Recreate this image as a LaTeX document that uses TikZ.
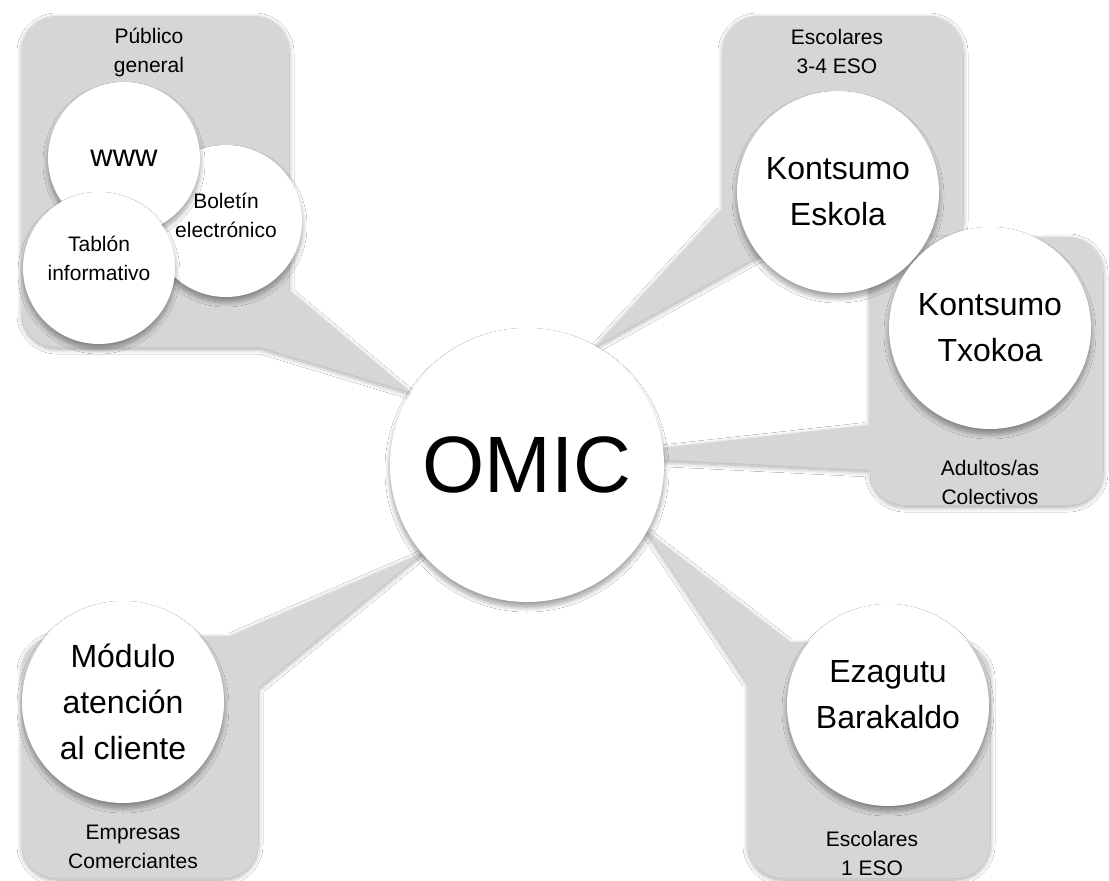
\documentclass[tikz,border=0pt]{standalone}
\usepackage{fontspec}
\setmainfont{Liberation Sans}
\usetikzlibrary{shadows, shadows.blur, backgrounds, calc}
\definecolor{boxgray}{RGB}{214,214,214}
\tikzset{
    bubble/.style={circle, fill=white, align=center, inner sep=0pt, blur shadow={shadow xshift=0pt, shadow yshift=-5pt, shadow blur radius=5pt, shadow blur steps=14, shadow opacity=40}},
    bigbubble/.style={bubble, minimum size=202pt, font=\fontsize{32}{46}\selectfont},
    smallbubble/.style={bubble, minimum size=152pt, font=\fontsize{21}{29}\selectfont},
    callout/.style={fill=boxgray, blur shadow={shadow xshift=0pt, shadow yshift=-2pt, shadow blur radius=5pt, shadow blur steps=12, shadow opacity=35}},
    grouptext/.style={align=center, font=\fontsize{21}{29}\selectfont}
}

\begin{document}
\begin{tikzpicture}[x=1pt, y=-1pt]
    \useasboundingbox (0,0) rectangle (1109,881);

    % Centre
    \node[bubble, minimum size=274pt, font=\fontsize{80}{90}\selectfont] (omic) at (527,465) {OMIC};

    % Publico general
    \node[smallbubble, text depth=12pt] (boletin) at (226,221) {Boletín\\electrónico};
    \node[smallbubble, font=\fontsize{31}{36}\selectfont] (www) at (124,158) {www};
    \node[smallbubble, text depth=20pt] (tablon) at (99,268) {Tablón\\informativo};
    \node[grouptext] (P_label) at (149,52) {Público\\general};

    % Escolares 3-4 ESO
    \node[bigbubble] (eskola) at (838,192) {Kontsumo\\Eskola};
    \node[grouptext] (E_label) at (837,51) {Escolares\\3-4 ESO};

    % Adultos/as
    \node[bigbubble] (txokoa) at (990,328) {Kontsumo\\Txokoa};
    \node[grouptext] (A_label) at (990,482) {Adultos/as\\Colectivos};

    % Empresas
    \node[bigbubble] (modulo) at (123,702) {Módulo\\atención\\al cliente};
    \node[grouptext] (C_label) at (133,847) {Empresas\\Comerciantes};

    % Escolares 1 ESO
    \node[bigbubble, text depth=22pt] (ezagutu) at (888,705) {Ezagutu\\Barakaldo};
    \node[grouptext] (B_label) at (872,853) {Escolares\\1 ESO};

    \begin{scope}[on background layer]
        \fill[white] (0,0) rectangle (1109,881);
        \path[callout] (omic.148) -- (260,347) [rounded corners=35pt] -- (22,347) -- (22,16) -- (289,16) [sharp corners] -- (289,290) -- cycle;
        \path[callout] (omic.60) -- (723,208) [rounded corners=35pt] -- (723,16) -- (963,16) -- (963,255) [sharp corners] -- (760,255) -- cycle;
        \path[callout] ($(omic.center)+(62,-9)$) -- (870,425) [rounded corners=35pt] -- (870,237) -- (1103,237) -- (1103,505) -- (870,505) [sharp corners] -- (870,470) -- cycle;
        \path[callout] (omic.220) -- (258,688) [rounded corners=35pt] -- (258,878) -- (22,878) -- (22,636) [sharp corners] -- (230,636) -- cycle;
        \path[callout] (omic.-29) -- (790,642) [rounded corners=35pt] -- (990,642) -- (990,878) -- (748,878) [sharp corners] -- (748,683) -- cycle;
    \end{scope}
\end{tikzpicture}
\end{document}
